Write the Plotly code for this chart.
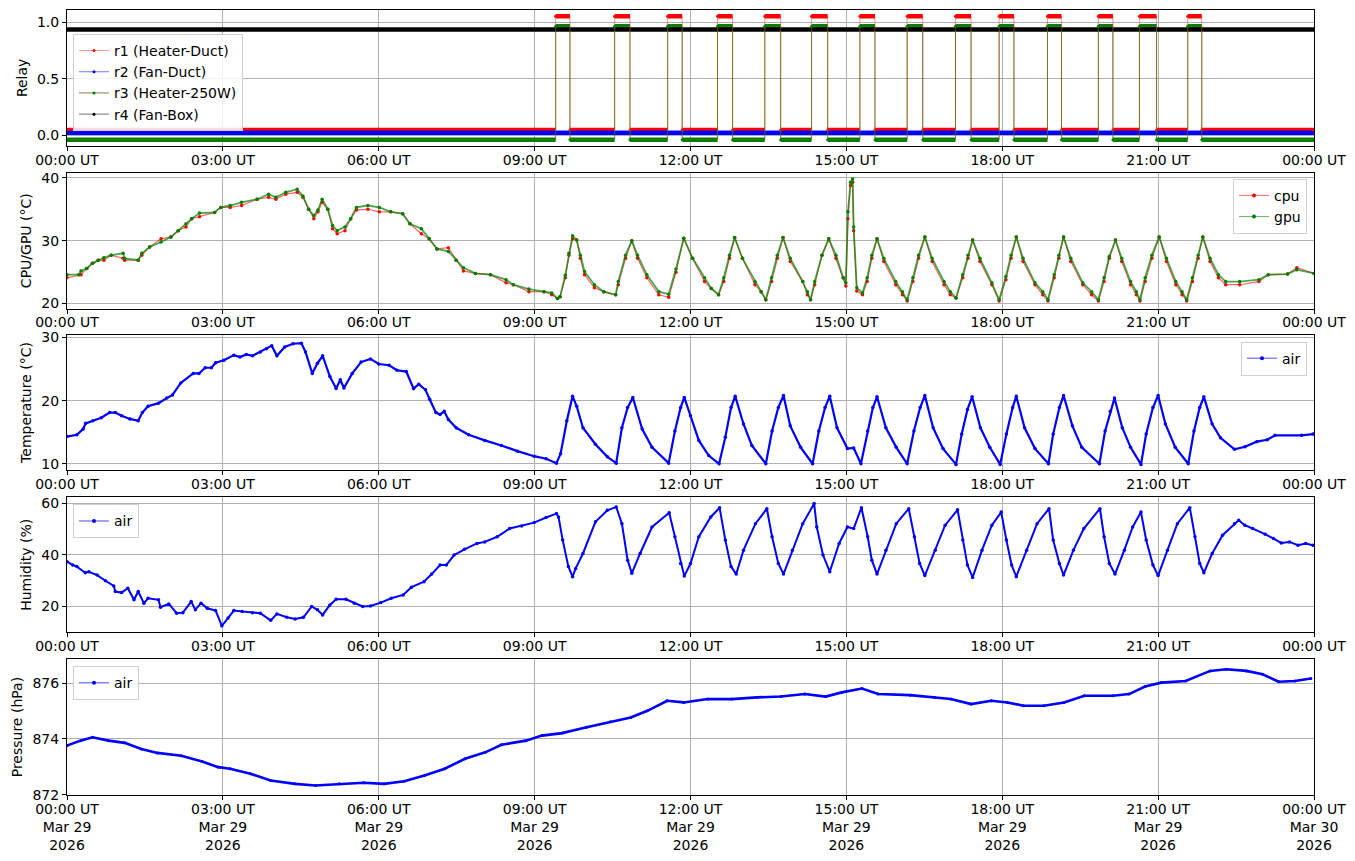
import pandas as pd
import plotly.graph_objects as go

BASE = pd.Timestamp("2026-03-29 00:00")

# ---------------- data (hours since 00:00 UT, value) ----------------
heater_on = [9.405, 10.54, 11.56, 12.52, 13.43, 14.33, 15.26, 16.17, 17.10, 17.94, 18.87, 19.85, 20.64, 21.57]
heater_off = [9.68, 10.835, 11.84, 12.81, 13.735, 14.64, 15.55, 16.47, 17.40, 18.225, 19.14, 20.13, 20.97, 21.84]
fan_duct_state = [(0, 0), (24, 0)]
fan_box_state = [(0, 1), (24, 1)]

gpu_pts = [(0, 24.6), (0.23, 24.6), (0.27, 25.2), (0.38, 25.6), (0.49, 26.4), (0.6, 26.9), (0.71, 27.3),
           (0.85, 27.7), (1.08, 28.0), (1.11, 27.2), (1.37, 26.9), (1.44, 28.0), (1.59, 29.0), (1.81, 29.8),
           (2.0, 30.6), (2.14, 31.6), (2.29, 32.7), (2.4, 33.5), (2.55, 34.4), (2.84, 34.5), (2.96, 35.3),
           (3.14, 35.6), (3.36, 36.1), (3.66, 36.6), (3.88, 37.4), (4.02, 36.9), (4.21, 37.7), (4.43, 38.2),
           (4.54, 37.1), (4.65, 35.0), (4.75, 34.0), (4.83, 34.9), (4.91, 36.6), (5.02, 35.0), (5.11, 32.4),
           (5.2, 31.6), (5.35, 32.2), (5.46, 33.5), (5.57, 35.3), (5.79, 35.6), (6.01, 35.3), (6.23, 34.6),
           (6.46, 34.3), (6.6, 32.7), (6.82, 31.9), (6.97, 30.3), (7.12, 28.7), (7.34, 28.3), (7.49, 26.9),
           (7.63, 25.7), (7.86, 24.8), (8.15, 24.6), (8.45, 23.8), (8.59, 23.0), (8.89, 22.3), (9.18, 21.9),
           (9.33, 21.7), (9.44, 20.8), (9.49, 21.1), (9.59, 24.5), (9.66, 28.0), (9.73, 30.8), (9.81, 30.1),
           (9.88, 27.7), (9.96, 25.1), (10.15, 23.0), (10.33, 21.9), (10.56, 21.4), (10.61, 23.5), (10.75, 27.7),
           (10.87, 30.0), (10.98, 27.7), (11.16, 24.6), (11.39, 21.9), (11.58, 21.5), (11.72, 25.5), (11.87, 30.4),
           (12.04, 27.2), (12.27, 24.1), (12.40, 22.4), (12.54, 21.4), (12.64, 24.1), (12.75, 27.7), (12.85, 30.5),
           (13.00, 27.2), (13.24, 23.5), (13.36, 21.9), (13.45, 20.6), (13.56, 24.1), (13.67, 27.7), (13.78, 30.5),
           (13.92, 27.2), (14.16, 23.5), (14.25, 21.9), (14.31, 20.6), (14.39, 23.5), (14.53, 27.7), (14.66, 30.3),
           (14.80, 27.7), (14.94, 24.1), (14.99, 23.3), (15.03, 34.6), (15.08, 39.3), (15.12, 39.8), (15.14, 32.2),
           (15.20, 22.5), (15.31, 21.7), (15.40, 24.1), (15.49, 27.7), (15.59, 30.3), (15.72, 27.2), (15.95, 23.5),
           (16.08, 21.9), (16.17, 20.6), (16.28, 24.1), (16.39, 27.7), (16.51, 30.6), (16.65, 27.2), (16.88, 23.5),
           (17.00, 21.9), (17.11, 20.9), (17.24, 24.6), (17.34, 27.7), (17.43, 30.1), (17.57, 27.2), (17.80, 23.3),
           (17.94, 20.6), (18.07, 24.3), (18.17, 27.7), (18.27, 30.6), (18.40, 27.2), (18.63, 23.3), (18.78, 21.9),
           (18.88, 20.6), (19.00, 24.6), (19.09, 27.7), (19.18, 30.6), (19.32, 27.2), (19.55, 23.3), (19.72, 21.9),
           (19.85, 20.6), (19.96, 24.1), (20.06, 27.5), (20.18, 30.1), (20.30, 27.2), (20.47, 23.5), (20.58, 21.9),
           (20.65, 20.6), (20.75, 24.1), (20.88, 27.7), (21.02, 30.6), (21.16, 27.2), (21.34, 23.5), (21.46, 21.9),
           (21.55, 20.6), (21.66, 24.1), (21.77, 27.7), (21.86, 30.6), (22.00, 27.2), (22.16, 24.6), (22.30, 23.5),
           (22.57, 23.5), (22.94, 23.8), (23.12, 24.6), (23.49, 24.7), (23.67, 25.4), (24.00, 24.8)]

cpu_pts = [(0, 24.1), (0.23, 24.6), (0.27, 24.6), (0.38, 25.6), (0.49, 26.4), (0.6, 26.9), (0.71, 26.9),
           (0.85, 27.7), (1.08, 27.2), (1.11, 26.9), (1.37, 26.9), (1.44, 27.7), (1.59, 29.0), (1.81, 30.3),
           (2.0, 30.6), (2.14, 31.6), (2.29, 32.2), (2.4, 33.5), (2.55, 33.8), (2.84, 34.5), (2.96, 35.3),
           (3.14, 35.3), (3.36, 35.6), (3.66, 36.6), (3.88, 36.9), (4.02, 36.6), (4.21, 37.4), (4.43, 37.7),
           (4.54, 36.9), (4.65, 35.0), (4.75, 33.5), (4.83, 34.6), (4.91, 36.1), (5.02, 35.0), (5.11, 31.9),
           (5.2, 31.1), (5.35, 31.6), (5.46, 33.5), (5.57, 34.9), (5.79, 35.0), (6.01, 34.6), (6.23, 34.6),
           (6.46, 34.3), (6.6, 32.7), (6.82, 31.1), (6.97, 30.3), (7.12, 28.7), (7.34, 28.9), (7.49, 26.9),
           (7.63, 25.2), (7.86, 24.8), (8.15, 24.6), (8.45, 23.3), (8.59, 23.0), (8.89, 21.9), (9.18, 21.9),
           (9.33, 21.4), (9.44, 20.8), (9.49, 21.1), (9.59, 24.1), (9.66, 27.7), (9.73, 30.3), (9.81, 30.1),
           (9.88, 27.2), (9.96, 24.6), (10.15, 22.5), (10.33, 21.9), (10.56, 21.4), (10.61, 23.0), (10.75, 27.2),
           (10.87, 30.0), (10.98, 27.2), (11.16, 24.1), (11.39, 21.4), (11.58, 21.0), (11.72, 25.0), (11.87, 30.4),
           (12.04, 27.2), (12.27, 23.5), (12.40, 22.4), (12.54, 21.4), (12.64, 23.5), (12.75, 27.2), (12.85, 30.5),
           (13.00, 27.2), (13.24, 23.0), (13.36, 21.9), (13.45, 20.6), (13.56, 23.5), (13.67, 27.2), (13.78, 30.5),
           (13.92, 26.7), (14.16, 23.5), (14.25, 21.4), (14.31, 20.6), (14.39, 23.0), (14.53, 27.7), (14.66, 30.3),
           (14.80, 27.2), (14.94, 24.1), (14.99, 22.8), (15.03, 33.5), (15.08, 38.8), (15.12, 39.3), (15.14, 31.6),
           (15.20, 22.0), (15.31, 21.4), (15.40, 23.5), (15.49, 27.2), (15.59, 30.3), (15.72, 26.7), (15.95, 23.0),
           (16.08, 21.4), (16.17, 20.4), (16.28, 23.5), (16.39, 27.2), (16.51, 30.6), (16.65, 26.7), (16.88, 23.0),
           (17.00, 21.4), (17.11, 20.9), (17.24, 24.1), (17.34, 27.2), (17.43, 30.1), (17.57, 26.7), (17.80, 23.0),
           (17.94, 20.4), (18.07, 23.8), (18.17, 27.2), (18.27, 30.6), (18.40, 26.7), (18.63, 23.0), (18.78, 21.4),
           (18.88, 20.4), (19.00, 24.1), (19.09, 27.2), (19.18, 30.6), (19.32, 26.7), (19.55, 23.0), (19.72, 21.4),
           (19.85, 20.4), (19.96, 23.5), (20.06, 27.2), (20.18, 30.1), (20.30, 26.7), (20.47, 23.0), (20.58, 21.4),
           (20.65, 20.4), (20.75, 23.5), (20.88, 27.2), (21.02, 30.6), (21.16, 26.7), (21.34, 23.0), (21.46, 21.4),
           (21.55, 20.4), (21.66, 23.5), (21.77, 27.2), (21.86, 30.6), (22.00, 26.7), (22.16, 24.1), (22.30, 23.0),
           (22.57, 23.0), (22.94, 23.5), (23.12, 24.6), (23.49, 24.7), (23.67, 25.7), (24.00, 24.8)]

air_temp_pts = [(0, 14.3), (0.19, 14.6), (0.31, 15.5), (0.36, 16.4), (0.5, 16.8), (0.66, 17.3), (0.82, 18.1),
                (0.93, 18.1), (1.05, 17.6), (1.21, 17.1), (1.37, 16.8), (1.45, 18.1), (1.56, 19.1), (1.76, 19.6),
                (1.92, 20.4), (2.03, 20.9), (2.19, 22.8), (2.43, 24.3), (2.54, 24.3), (2.66, 25.2), (2.78, 25.2),
                (2.86, 26.0), (3.02, 26.4), (3.21, 27.2), (3.33, 26.9), (3.45, 27.3), (3.57, 27.1), (3.72, 27.7),
                (3.84, 28.2), (3.94, 28.7), (4.04, 27.1), (4.19, 28.5), (4.35, 29.0), (4.51, 29.1), (4.59, 27.7),
                (4.72, 24.3), (4.82, 25.9), (4.92, 27.1), (5.06, 23.8), (5.18, 21.9), (5.26, 23.3), (5.33, 22.0),
                (5.49, 24.3), (5.66, 26.1), (5.84, 26.6), (6.0, 25.8), (6.2, 25.6), (6.35, 24.8), (6.53, 24.6),
                (6.67, 21.9), (6.77, 22.6), (6.9, 21.7), (6.98, 20.2), (7.1, 18.1), (7.18, 17.8), (7.26, 18.3),
                (7.34, 17.0), (7.49, 15.7), (7.73, 14.6), (8.04, 13.7), (8.36, 12.9), (8.67, 12.0), (8.99, 11.2),
                (9.22, 10.8), (9.42, 10.1), (9.5, 11.6), (9.62, 16.8), (9.73, 20.7), (9.81, 19.1), (9.93, 15.7),
                (10.17, 13.1), (10.4, 11.1), (10.57, 10.1), (10.68, 15.7), (10.79, 18.9), (10.89, 20.5),
                (11.07, 15.5), (11.26, 12.6), (11.58, 10.1), (11.7, 15.2), (11.81, 18.9), (11.88, 20.5),
                (12.0, 17.6), (12.16, 13.7), (12.35, 11.3), (12.55, 10.0), (12.67, 14.2), (12.78, 18.9),
                (12.86, 20.7), (13.02, 16.3), (13.18, 12.9), (13.45, 10.0), (13.57, 15.2), (13.69, 18.9),
                (13.79, 20.8), (13.92, 16.0), (14.12, 12.6), (14.35, 10.0), (14.47, 15.2), (14.59, 18.9),
                (14.68, 20.7), (14.82, 15.7), (15.02, 12.4), (15.14, 12.5), (15.28, 10.0), (15.41, 15.2),
                (15.51, 18.9), (15.59, 20.6), (15.76, 15.7), (15.96, 12.6), (16.17, 10.0), (16.3, 15.2),
                (16.42, 18.9), (16.51, 20.8), (16.67, 15.7), (16.86, 12.4), (17.11, 9.9), (17.22, 14.7),
                (17.33, 18.6), (17.42, 20.6), (17.58, 15.7), (17.76, 12.6), (17.96, 9.9), (18.08, 14.7),
                (18.2, 18.9), (18.27, 20.7), (18.43, 15.7), (18.63, 12.4), (18.89, 10.0), (18.98, 14.7),
                (19.1, 18.9), (19.18, 20.8), (19.35, 16.0), (19.53, 12.6), (19.87, 10.0), (19.98, 15.2),
                (20.08, 18.3), (20.16, 20.4), (20.31, 15.7), (20.47, 12.6), (20.67, 9.9), (20.77, 14.7),
                (20.9, 18.9), (21.0, 20.8), (21.14, 16.3), (21.33, 12.6), (21.58, 10.0), (21.69, 15.2),
                (21.8, 18.9), (21.88, 20.6), (22.04, 16.3), (22.2, 14.1), (22.47, 12.3), (22.67, 12.7),
                (22.9, 13.5), (23.1, 13.8), (23.25, 14.5), (23.76, 14.5), (23.98, 14.7)]

humidity_pts = [(0, 37.3), (0.11, 36.0), (0.19, 35.4), (0.35, 33.0), (0.42, 33.4), (0.58, 32.1), (0.74, 29.9),
                (0.9, 27.9), (0.93, 25.7), (1.05, 25.3), (1.17, 27.0), (1.29, 22.5), (1.37, 25.7), (1.48, 21.2),
                (1.56, 23.1), (1.76, 22.5), (1.8, 19.6), (1.96, 20.9), (2.11, 17.3), (2.23, 17.5), (2.39, 21.8),
                (2.47, 18.6), (2.58, 21.2), (2.7, 19.2), (2.86, 18.3), (2.98, 12.4), (3.1, 15.4), (3.21, 18.3),
                (3.37, 17.9), (3.57, 17.5), (3.72, 17.3), (3.92, 14.5), (4.04, 17.0), (4.23, 15.7), (4.39, 15.0),
                (4.55, 15.7), (4.71, 19.9), (4.82, 18.6), (4.92, 16.6), (5.06, 20.5), (5.18, 22.7), (5.37, 22.7),
                (5.53, 21.2), (5.69, 19.9), (5.84, 20.1), (6.04, 21.4), (6.24, 23.1), (6.47, 24.4), (6.63, 27.4),
                (6.87, 29.5), (7.02, 32.5), (7.18, 36.0), (7.3, 36.0), (7.45, 39.9), (7.65, 42.1), (7.89, 44.4),
                (8.04, 45.0), (8.28, 47.0), (8.52, 50.2), (8.75, 51.2), (8.99, 52.5), (9.22, 54.5), (9.42, 56.0),
                (9.46, 54.7), (9.54, 45.7), (9.65, 35.4), (9.73, 31.5), (9.79, 34.7), (9.93, 40.5), (10.17, 52.8),
                (10.4, 57.3), (10.57, 58.6), (10.68, 52.1), (10.79, 37.9), (10.87, 32.8), (11.03, 40.5),
                (11.26, 50.8), (11.59, 56.3), (11.7, 47.0), (11.81, 36.6), (11.88, 31.7), (12.0, 36.6),
                (12.16, 47.0), (12.39, 54.7), (12.56, 58.3), (12.67, 45.7), (12.78, 35.4), (12.88, 32.5),
                (13.02, 41.8), (13.25, 52.1), (13.47, 57.9), (13.57, 47.0), (13.69, 36.6), (13.79, 32.5),
                (13.96, 41.8), (14.16, 52.1), (14.38, 59.9), (14.43, 50.8), (14.55, 39.9), (14.68, 33.4),
                (14.86, 44.4), (15.02, 50.8), (15.14, 50.2), (15.29, 58.3), (15.41, 47.0), (15.49, 37.9),
                (15.59, 32.5), (15.76, 41.8), (15.96, 52.1), (16.2, 57.9), (16.31, 47.0), (16.41, 36.6),
                (16.51, 31.9), (16.71, 41.8), (16.9, 51.5), (17.14, 57.5), (17.24, 45.7), (17.33, 36.0),
                (17.43, 31.2), (17.61, 41.8), (17.8, 51.5), (17.98, 56.6), (18.08, 45.7), (18.18, 36.0),
                (18.27, 31.5), (18.47, 41.8), (18.67, 52.1), (18.9, 57.9), (18.98, 45.7), (19.1, 36.6),
                (19.18, 32.1), (19.37, 41.8), (19.57, 50.2), (19.88, 57.9), (19.96, 47.0), (20.06, 36.6),
                (20.17, 32.5), (20.35, 41.8), (20.51, 50.8), (20.67, 56.6), (20.77, 45.7), (20.9, 36.0),
                (21.0, 31.9), (21.18, 41.8), (21.37, 52.1), (21.61, 58.3), (21.71, 47.0), (21.8, 36.6),
                (21.88, 33.0), (22.04, 40.5), (22.24, 47.6), (22.47, 52.1), (22.55, 53.4), (22.67, 51.5),
                (22.82, 50.2), (23.06, 48.0), (23.22, 46.3), (23.37, 44.6), (23.53, 45.0), (23.69, 43.7),
                (23.84, 44.4), (23.98, 43.7)]

pressure_pts = [(0, 873.76), (0.26, 873.94), (0.49, 874.06), (0.8, 873.94), (1.11, 873.86), (1.43, 873.64),
                (1.74, 873.5), (2.2, 873.4), (2.6, 873.19), (2.91, 872.99), (3.14, 872.93), (3.53, 872.75),
                (3.92, 872.51), (4.39, 872.39), (4.78, 872.33), (5.24, 872.39), (5.71, 872.43), (6.1, 872.39),
                (6.49, 872.48), (6.88, 872.69), (7.27, 872.93), (7.66, 873.29), (8.05, 873.52), (8.36, 873.79),
                (8.83, 873.94), (9.14, 874.12), (9.53, 874.21), (10.0, 874.42), (10.46, 874.62), (10.85, 874.77),
                (11.17, 875.01), (11.55, 875.37), (11.87, 875.31), (12.33, 875.43), (12.8, 875.43), (13.27, 875.49),
                (13.74, 875.52), (14.2, 875.61), (14.6, 875.52), (14.91, 875.67), (15.3, 875.81), (15.61, 875.61),
                (16.23, 875.57), (16.7, 875.49), (17.01, 875.43), (17.4, 875.25), (17.79, 875.37), (18.1, 875.31),
                (18.41, 875.19), (18.8, 875.19), (19.19, 875.31), (19.58, 875.55), (20.13, 875.55), (20.44, 875.61),
                (20.75, 875.88), (21.06, 876.02), (21.53, 876.08), (22.0, 876.44), (22.31, 876.5), (22.7, 876.44),
                (23.01, 876.32), (23.32, 876.05), (23.63, 876.08), (23.94, 876.17)]

tick_hours = [0, 3, 6, 9, 12, 15, 18, 21, 24]

# ---------------- helpers ----------------
def ts(h):
    return BASE + pd.to_timedelta(h, unit="h")

def split(pts):
    return [ts(t) for t, _ in pts], [v for _, v in pts]

def heater_state():
    pts = [(0, 0)]
    for a, b in zip(heater_on, heater_off):
        pts += [(a, 1), (b, 0)]
    pts.append((24, 0))
    return pts

FONT = "DejaVu Sans"
FS = 14
RED, BLUE, GREEN, BLACK = "#ff0000", "#0000ff", "#008000", "#000000"

fig = go.Figure()

def legend_entry(name, line_col, marker_col, ax, leg):
    # legend-only entry (thin line with a small dot, like the reference legend)
    fig.add_trace(go.Scatter(x=[None], y=[None], mode="lines+markers", name=name,
                             line=dict(color=line_col, width=1), marker=dict(color=marker_col, size=4),
                             xaxis="x" + ax, yaxis="y" + ax, legend=leg))

# ---------------- relay panel ----------------
relays = [
    ("r1 (Heater-Duct)", heater_state(), RED, "rgba(255,0,0,0.45)", 0.05),
    ("r2 (Fan-Duct)", fan_duct_state, BLUE, "rgba(0,0,255,0.6)", 0.025),
    ("r3 (Heater-250W)", heater_state(), GREEN, "rgba(85,107,20,0.9)", -0.0375),
    ("r4 (Fan-Box)", fan_box_state, BLACK, "rgba(0,0,0,0.6)", -0.065),
]
for name, pts, col, thin, off in relays:
    sx, sy = [], []
    for (t0, v0), (t1, _) in zip(pts[:-1], pts[1:]):
        sx += [ts(t0), ts(t1), None]
        sy += [v0 + off, v0 + off, None]
    fig.add_trace(go.Scatter(x=sx, y=sy, mode="lines", line=dict(color=col, width=4.5),
                             showlegend=False, hoverinfo="skip", xaxis="x", yaxis="y"))
for name, pts, col, thin, off in relays:
    x, y = split(pts)
    fig.add_trace(go.Scatter(x=x, y=[v + off for v in y], mode="lines+markers", name=name,
                             line=dict(color=thin, width=0.9, shape="hv"),
                             marker=dict(color=col, size=3), xaxis="x", yaxis="y", legend="legend"))

# ---------------- cpu/gpu ----------------
x, y = split(cpu_pts)
fig.add_trace(go.Scatter(x=x, y=y, mode="lines+markers", name="cpu", line=dict(color="rgba(255,0,0,0.6)", width=1.2),
                         marker=dict(color=RED, size=3.5), xaxis="x2", yaxis="y2", showlegend=False))
x, y = split(gpu_pts)
fig.add_trace(go.Scatter(x=x, y=y, mode="lines+markers", name="gpu", line=dict(color="rgba(0,128,0,0.7)", width=1.8),
                         marker=dict(color=GREEN, size=3.5), xaxis="x2", yaxis="y2", showlegend=False))
legend_entry("cpu", "rgba(255,0,0,0.6)", RED, "2", "legend2")
legend_entry("gpu", "rgba(0,128,0,0.6)", GREEN, "2", "legend2")

# ---------------- air temperature ----------------
x, y = split(air_temp_pts)
fig.add_trace(go.Scatter(x=x, y=y, mode="lines+markers", name="air", line=dict(color=BLUE, width=2.2),
                         marker=dict(color=BLUE, size=3.5), xaxis="x3", yaxis="y3", showlegend=False))
legend_entry("air", "rgba(0,0,255,0.7)", BLUE, "3", "legend3")

# ---------------- humidity ----------------
x, y = split(humidity_pts)
fig.add_trace(go.Scatter(x=x, y=y, mode="lines+markers", name="air", line=dict(color=BLUE, width=2.0),
                         marker=dict(color=BLUE, size=3.5), xaxis="x4", yaxis="y4", showlegend=False))
legend_entry("air", "rgba(0,0,255,0.7)", BLUE, "4", "legend4")

# ---------------- pressure ----------------
x, y = split(pressure_pts)
fig.add_trace(go.Scatter(x=x, y=y, mode="lines+markers", name="air", line=dict(color=BLUE, width=2.6),
                         marker=dict(color=BLUE, size=3), xaxis="x5", yaxis="y5", showlegend=False))
legend_entry("air", "rgba(0,0,255,0.7)", BLUE, "5", "legend5")

# ---------------- layout ----------------
tick_x = [ts(h) for h in tick_hours]
short_text = [t.strftime("%H:%M UT") for t in tick_x]
long_text = [t.strftime("%H:%M UT<br>%b %d<br>%Y") for t in tick_x]

common = dict(showline=True, linecolor="black", linewidth=1, mirror=True, ticks="outside", ticklen=4,
              tickcolor="black", showgrid=True, gridcolor="#b0b0b0", gridwidth=0.8, zeroline=False,
              automargin=False, tickfont=dict(family=FONT, size=FS, color="black"))

domains = [(0.827, 1.0), (0.6196, 0.7926), (0.4135, 0.5865), (0.2074, 0.3791), (0.0, 0.173)]
ytitles = ["Relay", "CPU/GPU (°C)", "Temperature (°C)", "Humidity (%)", "Pressure (hPa)"]
yranges = [[-0.09, 1.106], [19.2, 40.8], [8.95, 30.45], [9.9, 62.3], [871.99, 876.86]]
yticks = [[0.0, 0.5, 1.0], [20, 30, 40], [10, 20, 30], [20, 40, 60], [872, 874, 876]]
yfmt = [".1f", "d", "d", "d", "d"]

lay = {}
for i in range(5):
    k = "" if i == 0 else str(i + 1)
    lay["xaxis" + k] = dict(common, type="date", domain=[0, 1], anchor="y" + k,
                            range=[ts(0), ts(24)], tickvals=tick_x, ticklabelstandoff=-3,
                            ticktext=long_text if i == 4 else short_text)
    lay["yaxis" + k] = dict(common, domain=list(domains[i]), anchor="x" + k, range=yranges[i],
                            tickvals=yticks[i], tickformat=yfmt[i],
                            title=dict(text=ytitles[i], font=dict(family=FONT, size=FS, color="black"), standoff=6))

leg = dict(font=dict(family=FONT, size=FS, color="black"), bgcolor="rgba(255,255,255,0.85)",
           bordercolor="#d0d0d0", borderwidth=1, tracegroupgap=0)
lay["legend"] = dict(leg, x=0.0048, y=0.9695, xanchor="left", yanchor="top")
lay["legend2"] = dict(leg, x=0.9944, y=0.785, xanchor="right", yanchor="top")
lay["legend3"] = dict(leg, x=0.9944, y=0.5776, xanchor="right", yanchor="top")
lay["legend4"] = dict(leg, x=0.0048, y=0.3702, xanchor="left", yanchor="top")
lay["legend5"] = dict(leg, x=0.0048, y=0.1641, xanchor="left", yanchor="top")

fig.update_layout(**lay)
# page body adds an 8px offset; size the figure so the plot area lands on the reference pixels
fig.update_layout(width=1347, height=853, margin=dict(l=59, r=41, t=1.5, b=66, autoexpand=False),
                  paper_bgcolor="white", plot_bgcolor="white",
                  font=dict(family=FONT, size=FS, color="black"), hovermode=False)

fig.write_html("out.html")
